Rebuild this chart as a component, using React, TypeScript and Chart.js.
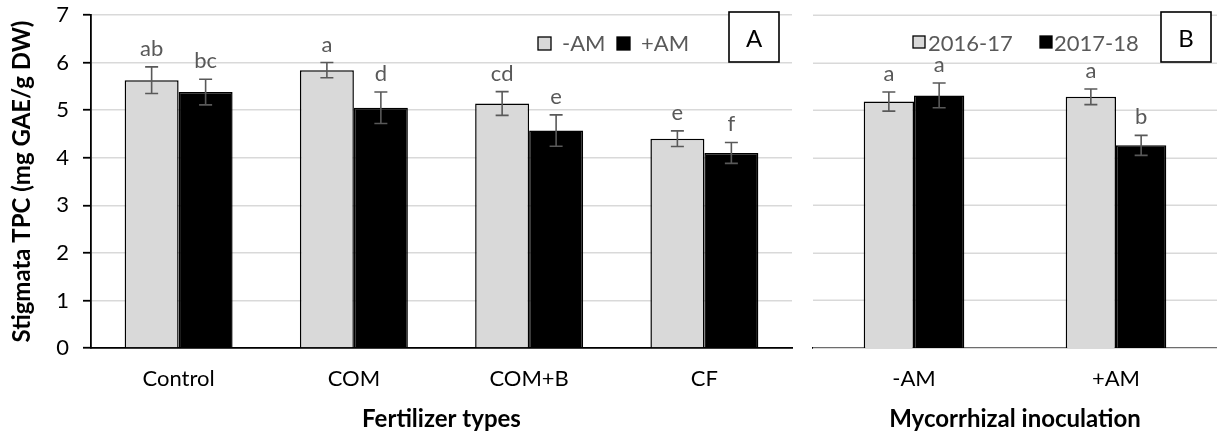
import React, { useEffect, useRef } from 'react';
import { Chart, registerables } from 'chart.js';

Chart.register(...registerables);

const FONT = 'Lato';

// ---- Panel A: fertilizer types ----
const fertCategories = ['Control', 'COM', 'COM+B', 'CF'];
const fertMinusAM = [5.63, 5.84, 5.14, 4.4];
const fertPlusAM = [5.38, 5.05, 4.57, 4.1];
const fertMinusAMErr = [0.28, 0.16, 0.25, 0.165];
const fertPlusAMErr = [0.27, 0.33, 0.33, 0.22];
const fertMinusAMLetters = ['ab', 'a', 'cd', 'e'];
const fertPlusAMLetters = ['bc', 'd', 'e', 'f'];
const fertSeriesLabels = ['-AM', '+AM'];

// ---- Panel B: mycorrhizal inoculation ----
const amCategories = ['-AM', '+AM'];
const year1Values = [5.18, 5.28];
const year2Values = [5.31, 4.26];
const year1Err = [0.2, 0.165];
const year2Err = [0.26, 0.21];
const year1Letters = ['a', 'a'];
const year2Letters = ['a', 'b'];
const yearSeriesLabels = ['2016-17', '2017-18'];

const yMin = 0;
const yMax = 7;
const yStep = 1;

const GRAY = '#d9d9d9';
const TEXT_GRAY = '#595959';

// horizontal gridlines for the panel whose y axis is hidden
const hiddenAxisGridPlugin = {
  id: 'hiddenAxisGrid',
  beforeDatasetsDraw(chart: any, _args: any, opts: any) {
    if (!opts.enabled) return;
    const { ctx, chartArea } = chart;
    const yScale = chart.scales.y;
    ctx.save();
    ctx.strokeStyle = GRAY;
    ctx.lineWidth = 1.5;
    yScale.ticks.forEach((t: any) => {
      const y = Math.round(yScale.getPixelForValue(t.value)) + 0.25;
      ctx.beginPath();
      ctx.moveTo(chartArea.left, y);
      ctx.lineTo(chartArea.right, y);
      ctx.stroke();
    });
    ctx.restore();
  },
  afterDraw(chart: any, _args: any, opts: any) {
    if (!opts.enabled) return;
    // keep the margin left of the plot area blank
    const { ctx, chartArea } = chart;
    ctx.save();
    ctx.fillStyle = '#fff';
    ctx.fillRect(0, 0, chartArea.left - 0.5, chartArea.bottom - 1.5);
    ctx.restore();
  },
};

const errorBarPlugin = {
  id: 'errorBars',
  afterDatasetsDraw(chart: any, _args: any, opts: any) {
    const { ctx } = chart;
    const yScale = chart.scales.y;
    chart.data.datasets.forEach((ds: any, i: number) => {
      const meta = chart.getDatasetMeta(i);
      meta.data.forEach((bar: any, j: number) => {
        const v = ds.data[j];
        const e = opts.errors[i][j];
        const x = bar.x;
        const yTop = yScale.getPixelForValue(v + e);
        const yBot = yScale.getPixelForValue(v - e);
        ctx.save();
        ctx.strokeStyle = TEXT_GRAY;
        ctx.lineWidth = 1.6;
        ctx.beginPath();
        ctx.moveTo(x, yTop);
        ctx.lineTo(x, yBot);
        ctx.moveTo(x - 6.5, yTop);
        ctx.lineTo(x + 6.5, yTop);
        ctx.moveTo(x - 6.5, yBot);
        ctx.lineTo(x + 6.5, yBot);
        ctx.stroke();
        ctx.fillStyle = TEXT_GRAY;
        ctx.font = `22px ${FONT}`;
        ctx.textAlign = 'center';
        ctx.textBaseline = 'alphabetic';
        ctx.fillText(opts.letters[i][j], x, yTop - 11);
        ctx.restore();
      });
    });
  },
};

const legendPlugin = {
  id: 'panelLegend',
  afterDraw(chart: any, _args: any, opts: any) {
    const { ctx } = chart;
    ctx.save();
    opts.items.forEach((it: any, i: number) => {
      const ds = chart.data.datasets[i];
      ctx.fillStyle = ds.backgroundColor;
      ctx.fillRect(it.boxX, opts.boxY, opts.boxSize, opts.boxSize);
      ctx.strokeStyle = '#000';
      ctx.lineWidth = 1.3;
      ctx.strokeRect(it.boxX, opts.boxY, opts.boxSize, opts.boxSize);
      ctx.fillStyle = TEXT_GRAY;
      ctx.font = `22px ${FONT}`;
      ctx.textAlign = 'left';
      ctx.textBaseline = 'middle';
      ctx.fillText(ds.label, it.textX, opts.textY);
    });
    const p = opts.panel;
    ctx.fillStyle = '#fff';
    ctx.fillRect(p.x, p.y, p.w, p.h);
    ctx.strokeStyle = '#000';
    ctx.lineWidth = 1.6;
    ctx.strokeRect(p.x, p.y, p.w, p.h);
    ctx.fillStyle = '#000';
    ctx.font = `24px ${FONT}`;
    ctx.textAlign = 'center';
    ctx.textBaseline = 'middle';
    ctx.fillText(p.text, p.x + p.w / 2, p.y + p.h / 2 + 2);
    ctx.restore();
  },
};

function makeConfig(opts: {
  categories: string[];
  labels: string[];
  s1: number[];
  s2: number[];
  e1: number[];
  e2: number[];
  l1: string[];
  l2: string[];
  catPct: number;
  xTitle: string;
  showYAxis: boolean;
  yWidth: number;
  padRight: number;
  legend: any;
}): any {
  return {
    type: 'bar',
    data: {
      labels: opts.categories,
      datasets: [
        {
          label: opts.labels[0],
          data: opts.s1,
          backgroundColor: GRAY,
          borderColor: '#000',
          borderWidth: 1.5,
          categoryPercentage: opts.catPct,
          barPercentage: 1,
        },
        {
          label: opts.labels[1],
          data: opts.s2,
          backgroundColor: '#000',
          borderColor: '#000',
          borderWidth: 1.5,
          categoryPercentage: opts.catPct,
          barPercentage: 1,
        },
      ],
    },
    options: {
      responsive: false,
      animation: false,
      devicePixelRatio: 1,
      layout: { padding: { top: 15, right: opts.padRight, left: 0, bottom: 0 } },
      plugins: {
        legend: { display: false },
        tooltip: { enabled: false },
        hiddenAxisGrid: { enabled: !opts.showYAxis },
        errorBars: { errors: [opts.e1, opts.e2], letters: [opts.l1, opts.l2] },
        panelLegend: opts.legend,
      },
      scales: {
        x: {
          grid: { display: false, drawTicks: false },
          border: { display: true, color: '#000', width: 1.8 },
          ticks: { color: '#000', font: { family: FONT, size: 22 }, padding: 18 },
          title: {
            display: true,
            text: opts.xTitle,
            color: '#000',
            font: { family: FONT, size: 24, weight: 'bold' },
            padding: { top: 0, bottom: 4 },
          },
          afterFit: (s: any) => {
            s.height = 90;
          },
        },
        y: {
          display: opts.showYAxis,
          min: yMin,
          max: yMax,
          ticks: {
            stepSize: yStep,
            color: '#000',
            // tiny lineHeight keeps the label half-height out of the top padding
            font: { family: FONT, size: 22, lineHeight: 0.02 },
            padding: 14,
          },
          grid: {
            color: GRAY,
            lineWidth: 1.5,
            drawTicks: true,
            tickColor: '#000',
            tickLength: 8,
            tickWidth: 1.8,
          },
          border: { color: '#000', width: 1.8 },
          title: {
            display: true,
            text: 'Stigmata TPC (mg GAE/g DW)',
            color: '#000',
            font: { family: FONT, size: 24, weight: 'bold' },
            padding: { top: 8, bottom: 0 },
          },
          afterFit: (s: any) => {
            s.width = opts.yWidth;
          },
        },
      },
    },
    plugins: [hiddenAxisGridPlugin, errorBarPlugin, legendPlugin],
  };
}

function Panel({ config, left, width }: { config: any; left: number; width: number }) {
  const ref = useRef<HTMLCanvasElement | null>(null);
  useEffect(() => {
    if (!ref.current) return;
    const chart = new Chart(ref.current, config);
    return () => chart.destroy();
  }, []);
  return (
    <canvas
      ref={ref}
      width={width}
      height={438}
      style={{ position: 'absolute', left, top: 0, width, height: 438, display: 'block' }}
    />
  );
}

export default function App() {
  const configA = makeConfig({
    categories: fertCategories,
    labels: fertSeriesLabels,
    s1: fertMinusAM,
    s2: fertPlusAM,
    e1: fertMinusAMErr,
    e2: fertPlusAMErr,
    l1: fertMinusAMLetters,
    l2: fertPlusAMLetters,
    catPct: 0.616,
    xTitle: 'Fertilizer types',
    showYAxis: true,
    yWidth: 91,
    padRight: 8,
    legend: {
      boxY: 37,
      boxSize: 13,
      textY: 44,
      items: [
        { boxX: 538, textX: 562 },
        { boxX: 617, textX: 641 },
      ],
      panel: { x: 729, y: 12, w: 50, h: 50, text: 'A' },
    },
  });
  const configB = makeConfig({
    categories: amCategories,
    labels: yearSeriesLabels,
    s1: year1Values,
    s2: year2Values,
    e1: year1Err,
    e2: year2Err,
    l1: year1Letters,
    l2: year2Letters,
    catPct: 0.498,
    xTitle: 'Mycorrhizal inoculation',
    showYAxis: false,
    yWidth: 13,
    padRight: 0,
    legend: {
      boxY: 36,
      boxSize: 12,
      textY: 44,
      items: [
        { boxX: 113, textX: 128 },
        { boxX: 240, textX: 254 },
      ],
      panel: { x: 361, y: 12, w: 50, h: 50, text: 'B' },
    },
  });
  return (
    <div
      style={{
        position: 'absolute',
        left: 0,
        top: 0,
        width: 1217,
        height: 438,
        background: '#fff',
        overflow: 'hidden',
      }}
    >
      <Panel config={configA} left={0} width={800} />
      <Panel config={configB} left={800} width={417} />
    </div>
  );
}
